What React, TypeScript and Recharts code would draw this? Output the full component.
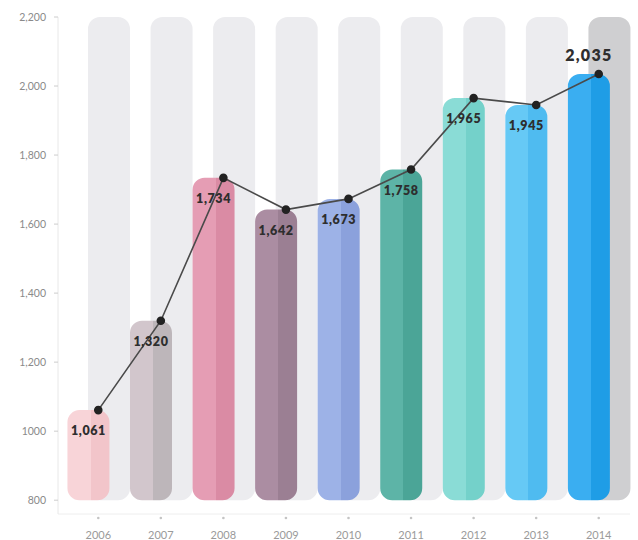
import { ComposedChart, Bar, Line, XAxis, YAxis, Cell, LabelList } from "recharts";

const YEARS = ["2006", "2007", "2008", "2009", "2010", "2011", "2012", "2013", "2014"];
const VALUES = [1061, 1320, 1734, 1642, 1673, 1758, 1965, 1945, 2035];
const Y_TICKS = [800, 1000, 1200, 1400, 1600, 1800, 2000, 2200];
const BASE = 800;
const TOP = 2200;

// two-tone bar fills: left half lighter, right half a bit darker
const LIGHT = ["#f8d4d8", "#d2c6cc", "#e59db4", "#ab8da2", "#9db2e7", "#5db4a7", "#8adcd6", "#66c9f5", "#3aaef1"];
const DARK = ["#f2c5ca", "#bdb6ba", "#da8ba4", "#9b7f93", "#8ba1dc", "#4ba597", "#74d1ca", "#4fbbf0", "#1f9de6"];
const TRACK = ["#ececef", "#ececef", "#ececef", "#ececef", "#ececef", "#ececef", "#ececef", "#ececef", "#cfcfd1"];

const data = YEARS.map((year, i) => ({
  year,
  value: VALUES[i],
  range: [BASE, VALUES[i]],
  track: [BASE, TOP],
}));

const FONT = "Lato, 'Open Sans', sans-serif";

function YearTick({ x, y, payload }: any) {
  return (
    <g>
      <circle cx={x} cy={y + 2} r={1.3} fill="#c4c4c4" />
      <text x={x} y={y + 23} textAnchor="middle" fill="#9a9a9a" fontSize={11} fontFamily={FONT}>
        {payload.value}
      </text>
    </g>
  );
}

function ValueLabel({ x, y, width, value, index }: any) {
  const last = index === VALUES.length - 1;
  return (
    <text
      x={x + width / 2}
      y={last ? y - 13 : y + 25}
      textAnchor="middle"
      fill="#2e2e2e"
      fontSize={last ? 16 : 12.5}
      fontWeight={800}
      fontFamily={FONT}
      letterSpacing={last ? 1.3 : 0.6}
    >
      {value.toLocaleString("en-US")}
    </text>
  );
}

export default function App() {
  return (
    <div style={{ position: "absolute", left: 0, top: 0, fontFamily: FONT }}>
      <ComposedChart
        width={638}
        height={540}
        data={data}
        barGap="-100%"
        margin={{ top: 17, right: 8, bottom: 0, left: 0 }}
      >
        <defs>
          {YEARS.map((y, i) => (
            <linearGradient key={y} id={`bar${i}`} x1="0" y1="0" x2="1" y2="0">
              <stop offset="0" stopColor={LIGHT[i]} />
              <stop offset="0.55" stopColor={LIGHT[i]} />
              <stop offset="0.55" stopColor={DARK[i]} />
              <stop offset="1" stopColor={DARK[i]} />
            </linearGradient>
          ))}
        </defs>
        <XAxis
          dataKey="year"
          height={26}
          axisLine={{ stroke: "#eeeeee" }}
          tickLine={false}
          tickSize={0}
          tick={<YearTick />}
          padding={{ left: 9, right: 0 }}
          interval={0}
        />
        <YAxis
          domain={[760, TOP]}
          ticks={Y_TICKS}
          width={58}
          tickSize={4}
          tickMargin={8}
          axisLine={{ stroke: "#e8e8e8" }}
          tickLine={{ stroke: "#cccccc" }}
          tick={{ fill: "#8a8a8a", fontSize: 10.5, fontFamily: FONT }}
          tickFormatter={(v: number) => (v === 1000 ? "1000" : v.toLocaleString("en-US"))}
        />
        <Bar dataKey="track" barSize={42} radius={12} isAnimationActive={false}>
          {YEARS.map((y, i) => (
            <Cell key={y} fill={TRACK[i]} />
          ))}
        </Bar>
        <Bar dataKey="range" barSize={42} radius={12} isAnimationActive={false}>
          {YEARS.map((y, i) => (
            <Cell key={y} fill={`url(#bar${i})`} />
          ))}
          <LabelList dataKey="value" content={<ValueLabel />} />
        </Bar>
        <Line
          dataKey="value"
          type="linear"
          stroke="#4a4a4a"
          strokeWidth={1.6}
          dot={{ r: 3.5, fill: "#222", stroke: "#222" }}
          isAnimationActive={false}
        />
      </ComposedChart>
    </div>
  );
}
